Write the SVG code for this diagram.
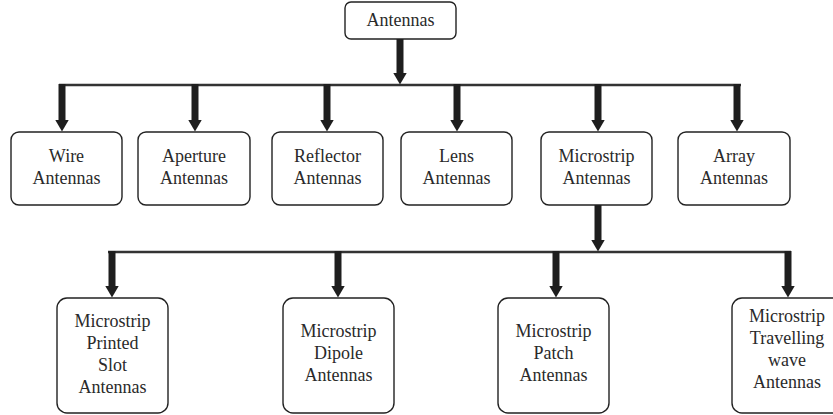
<svg xmlns="http://www.w3.org/2000/svg" width="833" height="415" viewBox="0 0 833 415">
  <style>
    .box { fill: #ffffff; stroke: #222222; stroke-width: 1.4; }
    .lbl { font-family: "Liberation Serif", "Times New Roman", serif; font-size: 18px; fill: #2a2a2a; text-anchor: middle; }
    .bus { stroke: #333333; stroke-width: 2.5; fill: none; }
    .drop { stroke: #1e1e1e; stroke-width: 7; fill: none; marker-end: url(#head); }
  </style>
  <defs>
    <marker id="head" viewBox="0 0 12 14" markerWidth="12" markerHeight="14" refX="0.5" refY="7" orient="auto" markerUnits="userSpaceOnUse">
      <path d="M0,0 L12,7 L0,14 z" fill="#1e1e1e"/>
    </marker>
  </defs>

  <rect width="833" height="415" fill="#ffffff"/>

  <g id="connectors">
    <!-- root to first bus -->
    <line class="drop" x1="400" y1="39" x2="400" y2="73"/>
    <line class="bus" x1="59" y1="85" x2="741" y2="85"/>
    <line class="drop" x1="62" y1="84" x2="62" y2="120"/>
    <line class="drop" x1="195" y1="84" x2="195" y2="120"/>
    <line class="drop" x1="327" y1="84" x2="327" y2="120"/>
    <line class="drop" x1="457" y1="84" x2="457" y2="120"/>
    <line class="drop" x1="598" y1="84" x2="598" y2="120"/>
    <line class="drop" x1="737" y1="84" x2="737" y2="120"/>
    <!-- microstrip to second bus -->
    <line class="drop" x1="598" y1="205" x2="598" y2="240"/>
    <line class="bus" x1="108" y1="252" x2="791" y2="252"/>
    <line class="drop" x1="112" y1="251" x2="112" y2="286"/>
    <line class="drop" x1="338" y1="251" x2="338" y2="286"/>
    <line class="drop" x1="556" y1="251" x2="556" y2="286"/>
    <line class="drop" x1="788" y1="251" x2="788" y2="286"/>
  </g>

  <g id="antennas">
    <rect class="box" x="345" y="2" width="111" height="37" rx="6"/>
    <text class="lbl" x="400.5" y="26">Antennas</text>
  </g>

  <g id="wire">
    <rect class="box" x="11" y="132" width="111" height="73" rx="8"/>
    <text class="lbl" x="66.5" y="162">Wire</text>
    <text class="lbl" x="66.5" y="184">Antennas</text>
  </g>
  <g id="aperture">
    <rect class="box" x="138" y="132" width="112" height="73" rx="8"/>
    <text class="lbl" x="194" y="162">Aperture</text>
    <text class="lbl" x="194" y="184">Antennas</text>
  </g>
  <g id="reflector">
    <rect class="box" x="272" y="132" width="111" height="73" rx="8"/>
    <text class="lbl" x="327.5" y="162">Reflector</text>
    <text class="lbl" x="327.5" y="184">Antennas</text>
  </g>
  <g id="lens">
    <rect class="box" x="401" y="132" width="111" height="73" rx="8"/>
    <text class="lbl" x="456.5" y="162">Lens</text>
    <text class="lbl" x="456.5" y="184">Antennas</text>
  </g>
  <g id="microstrip">
    <rect class="box" x="541" y="132" width="111" height="73" rx="8"/>
    <text class="lbl" x="596.5" y="162">Microstrip</text>
    <text class="lbl" x="596.5" y="184">Antennas</text>
  </g>
  <g id="array">
    <rect class="box" x="678" y="132" width="112" height="73" rx="8"/>
    <text class="lbl" x="734" y="162">Array</text>
    <text class="lbl" x="734" y="184">Antennas</text>
  </g>

  <g id="printed-slot">
    <rect class="box" x="57" y="298" width="111" height="115" rx="10"/>
    <text class="lbl" x="112.5" y="327">Microstrip</text>
    <text class="lbl" x="112.5" y="349">Printed</text>
    <text class="lbl" x="112.5" y="371">Slot</text>
    <text class="lbl" x="112.5" y="393">Antennas</text>
  </g>
  <g id="dipole">
    <rect class="box" x="283" y="298" width="111" height="115" rx="10"/>
    <text class="lbl" x="338.5" y="337">Microstrip</text>
    <text class="lbl" x="338.5" y="359">Dipole</text>
    <text class="lbl" x="338.5" y="381">Antennas</text>
  </g>
  <g id="patch">
    <rect class="box" x="498" y="298" width="111" height="115" rx="10"/>
    <text class="lbl" x="553.5" y="337">Microstrip</text>
    <text class="lbl" x="553.5" y="359">Patch</text>
    <text class="lbl" x="553.5" y="381">Antennas</text>
  </g>
  <g id="travelling-wave">
    <rect class="box" x="732" y="298" width="111" height="115" rx="10"/>
    <text class="lbl" x="787" y="322">Microstrip</text>
    <text class="lbl" x="787" y="344">Travelling</text>
    <text class="lbl" x="787" y="366">wave</text>
    <text class="lbl" x="787" y="388">Antennas</text>
  </g>
</svg>
